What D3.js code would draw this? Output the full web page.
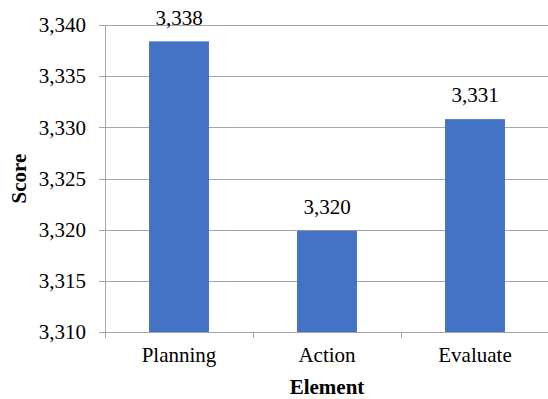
<!DOCTYPE html>
<html>
<head>
<meta charset="utf-8">
<script src="https://cdn.jsdelivr.net/npm/d3@7"></script>
<style>
  body { margin: 0; background: #fff; }
  text { font-family: 'Liberation Serif', 'Times New Roman', serif; }
</style>
</head>
<body>
<div id="chart"></div>
<script>
// chart data
var categories = ["Planning", "Action", "Evaluate"]
var scores = [3338.4, 3319.9, 3330.8]
var yTicks = [3310, 3315, 3320, 3325, 3330, 3335, 3340]

var width = 548
var height = 399
var serif = "'Liberation Serif', 'Times New Roman', serif"
var fontSize = "21px"
// plot area edges (note: "top" is reserved on window)
var plotLeft = 105, plotRight = 549, plotTop = 25, plotBottom = 332

var svg = d3.select("#chart")
    .append("svg")
    .attr("width", width)
    .attr("height", height)

var xScale = d3.scaleBand()
    .domain(categories)
    .range([plotLeft, plotRight])
    .paddingInner(0.595)
    .paddingOuter(0.2975)

var yScale = d3.scaleLinear()
    .domain([3310, 3340])
    .range([plotBottom, plotTop])

var fmt = d3.format(",.0f")

// y-axis with gridlines
var yAxis = svg.append("g")
    .attr("transform", "translate(" + plotLeft + ",0)")
    .call(d3.axisLeft(yScale).tickValues(yTicks).tickFormat(fmt).tickSize(0).tickPadding(19))

yAxis.attr("font-family", null).attr("font-size", null)
yAxis.select(".domain").remove()
yAxis.selectAll(".tick line")
    .attr("x1", -6)
    .attr("x2", plotRight - plotLeft)
    .attr("stroke", "#a6a6a6")
    .attr("shape-rendering", "crispEdges")
yAxis.selectAll(".tick text")
    .style("font-family", serif)
    .style("font-size", fontSize)
    .attr("fill", "#000")

// bars
svg.append("g").selectAll("rect")
    .data(scores)
    .enter()
    .append("rect")
    .attr("x", function(d, i) { return xScale(categories[i]) })
    .attr("y", function(d) { return yScale(d) })
    .attr("width", xScale.bandwidth())
    .attr("height", function(d) { return plotBottom - yScale(d) })
    .attr("fill", "#4472c4")

// vertical axis line
svg.append("line")
    .attr("x1", plotLeft).attr("x2", plotLeft)
    .attr("y1", plotTop).attr("y2", plotBottom + 6)
    .attr("stroke", "#a6a6a6")
    .attr("shape-rendering", "crispEdges")

var xAxis = svg.append("g")
    .attr("transform", "translate(0," + plotBottom + ")")
    .call(d3.axisBottom(xScale).tickSize(0).tickPadding(10))
xAxis.attr("font-family", null).attr("font-size", null)
xAxis.select(".domain")
    .attr("stroke", "#a6a6a6")
    .attr("shape-rendering", "crispEdges")
xAxis.selectAll(".tick text")
    .style("font-family", serif)
    .style("font-size", fontSize)
    .attr("fill", "#000")
    .attr("dy", null)
    .attr("y", 30)

// ticks between categories
var step = xScale.step()
svg.append("g").selectAll("line")
    .data(categories.slice(1))
    .enter()
    .append("line")
    .attr("x1", function(d) { return xScale(d) - xScale.paddingInner() * step / 2 })
    .attr("x2", function(d) { return xScale(d) - xScale.paddingInner() * step / 2 })
    .attr("y1", plotBottom)
    .attr("y2", plotBottom + 6)
    .attr("stroke", "#a6a6a6")
    .attr("shape-rendering", "crispEdges")

// value labels
svg.append("g").selectAll("text")
    .data(scores)
    .enter()
    .append("text")
    .attr("x", function(d, i) { return xScale(categories[i]) + xScale.bandwidth() / 2 })
    .attr("y", function(d) { return Math.max(yScale(d) - 17, 25) })
    .attr("text-anchor", "middle")
    .style("font-family", serif)
    .style("font-size", fontSize)
    .attr("fill", "#000")
    .text(function(d) { return fmt(d) })

// axis titles
svg.append("text")
    .attr("x", (plotLeft + plotRight) / 2)
    .attr("y", 394)
    .attr("text-anchor", "middle")
    .style("font-family", serif)
    .style("font-size", fontSize)
    .style("font-weight", "bold")
    .text("Element")

svg.append("text")
    .attr("transform", "translate(26," + ((plotTop + plotBottom) / 2) + ") rotate(-90)")
    .attr("text-anchor", "middle")
    .style("font-family", serif)
    .style("font-size", fontSize)
    .style("font-weight", "bold")
    .text("Score")
</script>
</body>
</html>
